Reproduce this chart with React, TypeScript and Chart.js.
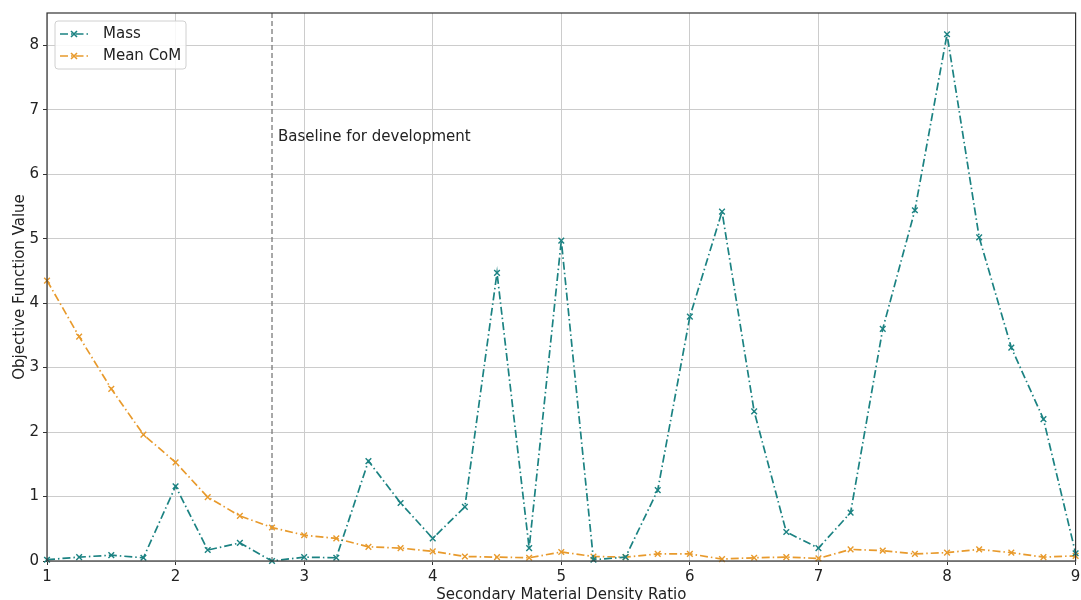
import React, { useEffect, useRef } from "react";
import { Chart, registerables } from "chart.js";

Chart.register(...registerables);

// Density ratios sampled every 0.25 from 1 to 9
const densityRatios = [
  1, 1.25, 1.5, 1.75, 2, 2.25, 2.5, 2.75, 3, 3.25, 3.5, 3.75, 4, 4.25, 4.5, 4.75,
  5, 5.25, 5.5, 5.75, 6, 6.25, 6.5, 6.75, 7, 7.25, 7.5, 7.75, 8, 8.25, 8.5, 8.75, 9,
];

const massValues = [
  0.02, 0.06, 0.09, 0.05, 1.16, 0.17, 0.28, 0.0, 0.06, 0.05, 1.55, 0.9, 0.35, 0.84, 4.47, 0.2,
  4.97, 0.02, 0.06, 1.1, 3.79, 5.42, 2.32, 0.45, 0.2, 0.75, 3.6, 5.44, 8.17, 5.02, 3.31, 2.2, 0.12,
];

const meanComValues = [
  4.35, 3.48, 2.67, 1.96, 1.53, 0.99, 0.7, 0.52, 0.4, 0.35, 0.22, 0.2, 0.15, 0.07, 0.06, 0.05,
  0.14, 0.07, 0.06, 0.11, 0.11, 0.03, 0.05, 0.06, 0.04, 0.18, 0.16, 0.11, 0.13, 0.18, 0.13, 0.06, 0.08,
];

const seriesNames = ["Mass", "Mean CoM"];
const seriesColors = ["#1b8282", "#e89a2c"];

const baselineRatio = 2.75;
const baselineLabel = "Baseline for development";
const baselineLabelY = 6.57;

const xTitle = "Secondary Material Density Ratio";
const yTitle = "Objective Function Value";

const FONT = "'DejaVu Sans', sans-serif";
const FONT_SIZE = 15;
const DASH_DOT = [8, 3, 1.5, 3];

const overlayPlugin = {
  id: "overlay",
  beforeDatasetsDraw(chart: any) {
    const { ctx, chartArea, scales } = chart;
    const x = scales.x.getPixelForValue(baselineRatio);
    ctx.save();
    ctx.strokeStyle = "#7a7a7a";
    ctx.lineWidth = 1.3;
    ctx.setLineDash([5, 3]);
    ctx.beginPath();
    ctx.moveTo(x, chartArea.top);
    ctx.lineTo(x, chartArea.bottom);
    ctx.stroke();
    ctx.restore();
  },
  afterDatasetsDraw(chart: any) {
    const { ctx, chartArea, scales } = chart;
    ctx.save();
    // plot frame
    ctx.strokeStyle = "#333";
    ctx.lineWidth = 1.2;
    ctx.strokeRect(chartArea.left, chartArea.top, chartArea.right - chartArea.left, chartArea.bottom - chartArea.top);

    // baseline annotation
    ctx.fillStyle = "#222";
    ctx.font = `${FONT_SIZE}px ${FONT}`;
    ctx.textAlign = "left";
    ctx.textBaseline = "middle";
    ctx.fillText(baselineLabel, scales.x.getPixelForValue(baselineRatio) + 6, scales.y.getPixelForValue(baselineLabelY));

    // axis titles
    ctx.textAlign = "center";
    ctx.textBaseline = "middle";
    ctx.fillText(xTitle, (chartArea.left + chartArea.right) / 2, chartArea.bottom + 34);
    ctx.save();
    ctx.translate(20, (chartArea.top + chartArea.bottom) / 2);
    ctx.rotate(-Math.PI / 2);
    ctx.fillText(yTitle, 0, 0);
    ctx.restore();

    // legend
    const lx = chartArea.left + 8;
    const ly = chartArea.top + 8;
    const lw = 131;
    const lh = 48;
    ctx.fillStyle = "rgba(255,255,255,0.85)";
    ctx.strokeStyle = "#d0d0d0";
    ctx.lineWidth = 1;
    ctx.beginPath();
    (ctx as any).roundRect(lx, ly, lw, lh, 3);
    ctx.fill();
    ctx.stroke();
    seriesNames.forEach((name, i) => {
      const cy = ly + 13 + i * 22;
      ctx.strokeStyle = seriesColors[i];
      ctx.lineWidth = 1.6;
      ctx.setLineDash(DASH_DOT);
      ctx.beginPath();
      ctx.moveTo(lx + 5, cy);
      ctx.lineTo(lx + 33, cy);
      ctx.stroke();
      ctx.setLineDash([]);
      const mx = lx + 19;
      const r = 3;
      ctx.beginPath();
      ctx.moveTo(mx - r, cy - r);
      ctx.lineTo(mx + r, cy + r);
      ctx.moveTo(mx - r, cy + r);
      ctx.lineTo(mx + r, cy - r);
      ctx.stroke();
      ctx.fillStyle = "#222";
      ctx.font = `${FONT_SIZE}px ${FONT}`;
      ctx.textAlign = "left";
      ctx.textBaseline = "middle";
      ctx.fillText(name, lx + 48, cy);
    });
    ctx.restore();
  },
};

export default function App() {
  const canvasRef = useRef<HTMLCanvasElement | null>(null);

  useEffect(() => {
    document.body.style.margin = "0";
    const canvas = canvasRef.current;
    if (!canvas) return;

    const makeDataset = (label: string, values: number[], color: string) => ({
      label,
      data: densityRatios.map((x, i) => ({ x, y: values[i] })),
      borderColor: color,
      backgroundColor: color,
      borderWidth: 1.7,
      borderDash: DASH_DOT,
      pointStyle: "crossRot" as const,
      pointRadius: 4,
      pointBorderWidth: 1.4,
      pointBorderColor: color,
      tension: 0,
      fill: false,
    });

    const chart = new Chart(canvas, {
      type: "line",
      data: {
        datasets: [
          makeDataset(seriesNames[0], massValues, seriesColors[0]),
          makeDataset(seriesNames[1], meanComValues, seriesColors[1]),
        ],
      },
      options: {
        animation: false,
        responsive: false,
        clip: false as any,
        layout: { padding: { top: 13, right: 4, left: 0, bottom: 0 } },
        plugins: { legend: { display: false }, tooltip: { enabled: false } },
        scales: {
          x: {
            type: "linear",
            min: 1,
            max: 9,
            ticks: { stepSize: 1, color: "#222", font: { family: FONT, size: FONT_SIZE }, padding: 3, maxRotation: 0 },
            grid: { color: "#cccccc", lineWidth: 1, tickLength: 4, tickColor: "#333" },
            border: { display: false },
            afterFit: (s: any) => {
              s.height = 39;
              s.paddingLeft = 0;
              s.paddingRight = 0;
            },
          },
          y: {
            type: "linear",
            min: 0,
            max: 8.5,
            ticks: { stepSize: 1, color: "#222", font: { family: FONT, size: FONT_SIZE }, padding: 4 },
            grid: { color: "#cccccc", lineWidth: 1, tickLength: 4, tickColor: "#333" },
            border: { display: false },
            afterBuildTicks: (s: any) => { s.ticks = s.ticks.filter((t: any) => Number.isInteger(t.value)); },
            afterFit: (s: any) => {
              s.width = 47;
              s.paddingTop = 0;
              s.paddingBottom = 0;
            },
          },
        },
      },
      plugins: [overlayPlugin],
    });

    return () => chart.destroy();
  }, []);

  return (
    <div style={{ position: "relative", width: 1081, height: 600, background: "#fff" }}>
      <canvas ref={canvasRef} width={1081} height={600} style={{ display: "block" }} />
    </div>
  );
}
